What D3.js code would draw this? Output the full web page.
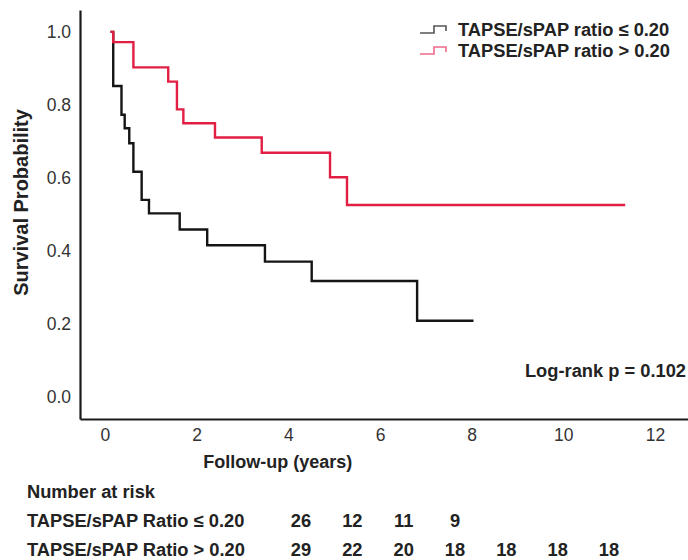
<!DOCTYPE html>
<html>
<head>
<meta charset="utf-8">
<script src="https://cdn.jsdelivr.net/npm/d3@7"></script>
<style>
  body { margin: 0; background: #fff; }
  svg { display: block; font-family: "Liberation Sans", Arial, sans-serif; }
</style>
</head>
<body>
<svg id="chart" width="688" height="560"></svg>
<script>
// Kaplan-Meier steps (time in years, survival probability).
const lowTimes = [0.12, 0.18, 0.36, 0.43, 0.53, 0.62, 0.80, 0.96, 1.63, 2.23, 3.49, 4.51, 6.81, 8.04];
const lowSurv  = [1.0, 0.852, 0.773, 0.736, 0.695, 0.617, 0.540, 0.503, 0.459, 0.416, 0.371, 0.318, 0.209, 0.209];
const highTimes = [0.12, 0.18, 0.62, 1.38, 1.57, 1.71, 2.40, 3.42, 4.91, 5.28, 11.35];
const highSurv  = [1.0, 0.972, 0.903, 0.864, 0.788, 0.750, 0.711, 0.669, 0.602, 0.526, 0.526];

const seriesNames = ["TAPSE/sPAP ratio \u2264 0.20", "TAPSE/sPAP ratio > 0.20"];
const riskNames = ["TAPSE/sPAP Ratio \u2264 0.20", "TAPSE/sPAP Ratio > 0.20"];
const riskLow  = [26, 12, 11, 9];
const riskHigh = [29, 22, 20, 18, 18, 18, 18];

const xTicks = [0, 2, 4, 6, 8, 10, 12];
const yTicks = [0, 0.2, 0.4, 0.6, 0.8, 1.0];

const colors = ["#151515", "#e21f43"];
const legendColors = ["#555555", "#ef6a8a"];

// layout
const axisLeft = 80, axisRight = 688, axisTop = 10, axisBottom = 419;

const x = d3.scaleLinear().domain([-0.545, 12.72]).range([axisLeft, axisRight]);
const y = d3.scaleLinear().domain([-0.06, 1.06]).range([axisBottom, axisTop]);

const svg = d3.select("#chart");

// y axis
const yAxis = svg.append("g")
    .attr("transform", `translate(${axisLeft},0)`)
    .call(d3.axisLeft(y).tickValues(yTicks).tickFormat(d3.format(".1f")).tickSize(0).tickPadding(9));
yAxis.select(".domain").attr("stroke", "#1a1a1a").attr("stroke-width", 2.2);
yAxis.selectAll("text").attr("font-size", 17.5).attr("fill", "#333").attr("font-family", "Liberation Sans, Arial, sans-serif");

// x axis
const xAxis = svg.append("g")
    .attr("transform", `translate(0,${axisBottom})`)
    .call(d3.axisBottom(x).tickValues(xTicks).tickSize(0).tickPadding(10));
xAxis.select(".domain").attr("stroke", "#1a1a1a").attr("stroke-width", 2.2);
xAxis.selectAll("text").attr("font-size", 17.5).attr("fill", "#333").attr("font-family", "Liberation Sans, Arial, sans-serif");

// axis titles
svg.append("text")
    .attr("transform", `translate(21,${(axisTop + axisBottom) / 2 - 12}) rotate(-90)`)
    .attr("text-anchor", "middle")
    .attr("dominant-baseline", "central")
    .attr("font-size", 20)
    .attr("font-weight", "bold")
    .attr("fill", "#222")
    .text("Survival Probability");

svg.append("text")
    .attr("x", x(3.77))
    .attr("y", 462)
    .attr("text-anchor", "middle")
    .attr("dominant-baseline", "central")
    .attr("font-size", 18)
    .attr("font-weight", "bold")
    .attr("fill", "#222")
    .text("Follow-up (years)");

// survival curves
const line = d3.line()
    .x(d => x(d[0]))
    .y(d => y(d[1]))
    .curve(d3.curveStepAfter);

const curves = [d3.zip(lowTimes, lowSurv), d3.zip(highTimes, highSurv)];
curves.forEach((pts, i) => {
    svg.append("path")
        .datum(pts)
        .attr("fill", "none")
        .attr("stroke", colors[i])
        .attr("stroke-width", 2.4)
        .attr("d", line);
});

// legend
const legend = svg.append("g").attr("transform", "translate(420,29)");
seriesNames.forEach((name, i) => {
    const g = legend.append("g").attr("transform", `translate(0,${i * 21})`);
    g.append("path")
        .attr("d", "M0,4H14V-3H26V2")
        .attr("fill", "none")
        .attr("stroke", legendColors[i])
        .attr("stroke-width", 1.6);
    g.append("text")
        .attr("x", 38)
        .attr("y", 0)
        .attr("dominant-baseline", "central")
        .attr("font-size", 18.3)
        .attr("font-weight", "bold")
        .attr("fill", "#222")
        .text(name);
});

// log-rank
svg.append("text")
    .attr("x", 686)
    .attr("y", 370)
    .attr("text-anchor", "end")
    .attr("dominant-baseline", "central")
    .attr("font-size", 18.3)
    .attr("font-weight", "bold")
    .attr("fill", "#222")
    .text("Log-rank p = 0.102");

// number at risk table
const riskX = d3.scalePoint().domain(d3.range(riskHigh.length)).range([301, 609]);
svg.append("text")
    .attr("x", 27).attr("y", 491)
    .attr("dominant-baseline", "central")
    .attr("font-size", 18.3).attr("font-weight", "bold").attr("fill", "#222")
    .text("Number at risk");

[riskLow, riskHigh].forEach((row, i) => {
    const ry = 520 + i * 29;
    svg.append("text")
        .attr("x", 27).attr("y", ry)
        .attr("dominant-baseline", "central")
        .attr("font-size", 18.3).attr("font-weight", "bold").attr("fill", "#222")
        .text(riskNames[i]);
    svg.selectAll(null)
        .data(row)
        .enter()
        .append("text")
        .attr("x", (d, j) => riskX(j))
        .attr("y", ry)
        .attr("text-anchor", "middle")
        .attr("dominant-baseline", "central")
        .attr("font-size", 18.3).attr("font-weight", "bold").attr("fill", "#222")
        .text(d => d);
});
</script>
</body>
</html>
